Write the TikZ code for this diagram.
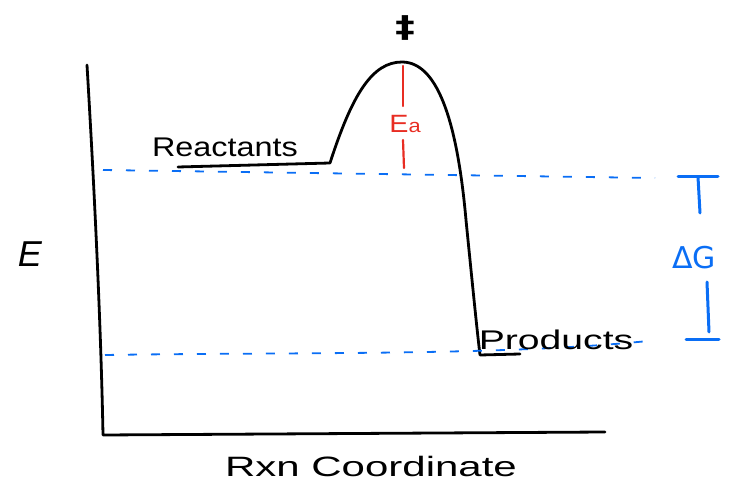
\documentclass[tikz,border=0pt]{standalone}
\usepackage{fontspec}
\setmainfont{Liberation Sans}
\newfontfamily\symfont{DejaVu Sans}
\begin{document}
\begin{tikzpicture}[x=1pt,y=-1pt,
  ink/.style={line width=2.8pt,line cap=round,line join=round,black},
  bluedash/.style={line width=1.8pt,color=diagblue,dash pattern=on 9pt off 14pt},
  bluebar/.style={line width=3pt,color=diagblue,line cap=round},
  redbar/.style={line width=2.2pt,color=diagred,line cap=round},
  lbl/.style={inner sep=0pt,font=\fontsize{22}{24}\selectfont}]
\definecolor{diagblue}{RGB}{10,110,245}
\definecolor{diagred}{RGB}{232,45,35}
\useasboundingbox (0,0) rectangle (729,481);
% axes
\coordinate (ytop) at (87,65);
\coordinate (origin) at (103,435);
\coordinate (xend) at (605,432);
\draw[ink] (ytop) .. controls (95,200) and (101,330) .. (origin) -- (xend);
% energy levels
\coordinate (r0) at (178,167);
\coordinate (r1) at (330,163);
\coordinate (peak) at (402,62);
\coordinate (p0) at (480,355);
\coordinate (p1) at (520,354);
\draw[ink] (r0) -- (r1) .. controls (352,95) and (372,62) .. (peak)
  .. controls (440,62) and (458,130) .. (466,220)
  .. controls (473,290) and (477,330) .. (p0) -- (p1);
% dashed reference lines
\coordinate (ua) at (103,170);
\coordinate (ub) at (655,178);
\coordinate (la) at (105,355);
\coordinate (lb) at (648,341);
\draw[bluedash] (ua) -- (ub);
\draw[bluedash] (la) .. controls (300,352) and (500,356) .. (lb);
% Ea
\coordinate (ea0) at (403,66);
\coordinate (ea1) at (403,106);
\coordinate (ea2) at (403,140);
\coordinate (ea3) at (404,168);
\draw[redbar] (ea0) -- (ea1);
\draw[redbar] (ea2) -- (ea3);
\node[lbl,text=diagred,font=\fontsize{25}{26}\selectfont,xscale=1.15] (ea) at (405,124) {E{\fontsize{19}{19}\selectfont a}};
% Delta G bracket
\coordinate (gt1) at (678,177);
\coordinate (gt2) at (718,177);
\coordinate (gt3) at (698,177);
\coordinate (gt4) at (700,213);
\draw[bluebar] (gt1) -- (gt2);
\draw[bluebar] (gt3) -- (gt4);
\coordinate (gb1) at (707,282);
\coordinate (gb2) at (709,332);
\coordinate (gb3) at (686,340);
\coordinate (gb4) at (719,340);
\draw[bluebar] (gb1) -- (gb2);
\draw[bluebar] (gb3) -- (gb4);
\node[lbl,text=diagblue,font=\symfont\fontsize{30}{32}\selectfont] (dg) at (694,258) {ΔG};
% labels
\node[lbl,font=\fontsize{27}{29}\selectfont,xscale=1.2] (react) at (225,147) {Reactants};
\node[lbl,font=\fontsize{27}{29}\selectfont,xscale=1.45] (prod) at (556,340) {Products};
\node[lbl,font=\symfont\bfseries\fontsize{30}{32}\selectfont,xscale=1.3] (ddag) at (405,28) {‡};
\node[lbl,font=\fontsize{36}{38}\selectfont\itshape] (E) at (30,254) {E};
\node[lbl,font=\fontsize{28}{30}\selectfont,xscale=1.5] (rxn) at (371,466) {Rxn Coordinate};
\end{tikzpicture}
\end{document}
